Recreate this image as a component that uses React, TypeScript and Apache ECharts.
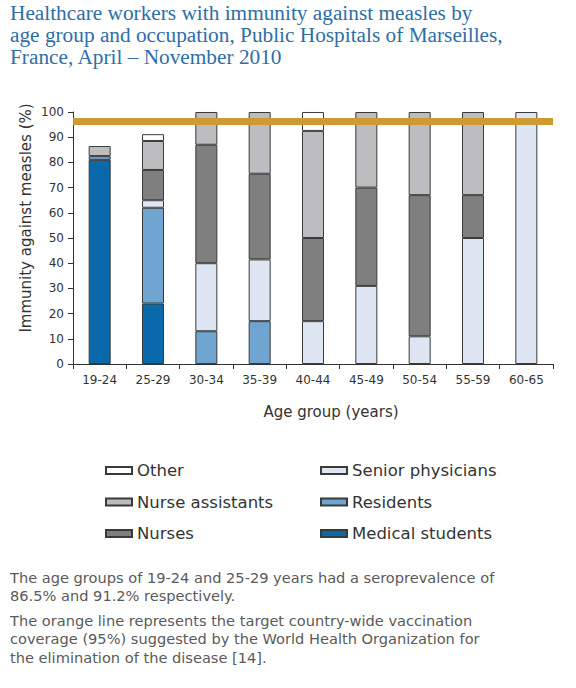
import React, { useEffect, useRef } from "react";
import * as echarts from "echarts";

const categories = ["19-24", "25-29", "30-34", "35-39", "40-44", "45-49", "50-54", "55-59", "60-65"];
const medicalStudents = [81, 24, null, null, null, null, null, null, null];
const residents = [1.5, 38, 13, 17, null, null, null, null, null];
const seniorPhysicians = [null, 3, 27, 24.5, 17, 31, 11, 50, 100];
const nurses = [null, 12, 47, 34, 33, 39, 56, 17, null];
const nurseAssistants = [4, 11.5, 13, 24.5, 42.5, 30, 33, 33, null];
const other = [null, 2.7, null, null, 7.5, null, null, null, null];
const targetLine = 96.5;
const yTicks = { min: 0, max: 100, interval: 10 };

const titleLines = [
  "Healthcare workers with immunity against measles by",
  "age group and occupation, Public Hospitals of Marseilles,",
  "France, April \u2013 November 2010",
];
const yAxisName = "Immunity against measles (%)";
const xAxisName = "Age group (years)";
const noteLines = [
  "The age groups of 19-24 and 25-29 years had a seroprevalence of",
  "86.5% and 91.2% respectively.",
  "The orange line represents the target country-wide vaccination",
  "coverage (95%) suggested by the World Health Organization for",
  "the elimination of the disease [14].",
];
const noteY = [577, 595, 620, 638, 657];

const SANS = "'DejaVu Sans', sans-serif";
const BORDER = "#3a3a3a";

export default function App() {
  const ref = useRef<HTMLDivElement>(null);
  useEffect(() => {
    document.body.style.margin = "0";
    const chart = echarts.init(ref.current!, null, { renderer: "svg" });
    const mk = (name: string, data: any[], color: string, extra: any = {}) => ({
      name,
      type: "bar",
      stack: "total",
      barWidth: 22,
      data,
      itemStyle: { color, borderColor: BORDER, borderWidth: 1 },
      emphasis: { disabled: true },
      ...extra,
    });
    const legendText = { fontSize: 16.5, color: "#333", fontFamily: SANS };
    const legendBase = {
      orient: "vertical",
      top: 457,
      itemWidth: 26,
      itemHeight: 7,
      itemGap: 14.5,
      icon: "rect",
      textStyle: legendText,
      selectedMode: false,
    };
    chart.setOption({
      animation: false,
      textStyle: { fontFamily: SANS },
      grid: { left: 73, right: 23, top: 112, bottom: 324, containLabel: false },
      legend: [
        { ...legendBase, left: 100, data: ["Other", "Nurse assistants", "Nurses"] },
        { ...legendBase, left: 315, data: ["Senior physicians", "Residents", "Medical students"] },
      ],
      xAxis: {
        type: "category",
        data: categories,
        boundaryGap: true,
        axisLine: { lineStyle: { color: "#333", width: 1 } },
        axisTick: { show: true, length: 5, lineStyle: { color: "#333" } },
        axisLabel: { color: "#333", fontSize: 12, margin: 10, fontFamily: SANS },
      },
      yAxis: {
        type: "value",
        min: yTicks.min,
        max: yTicks.max,
        interval: yTicks.interval,
        axisLine: { show: true, lineStyle: { color: "#333", width: 1 } },
        axisTick: { show: true, length: 5, lineStyle: { color: "#333" } },
        splitLine: { show: false },
        axisLabel: { color: "#333", fontSize: 12, margin: 9, fontFamily: SANS },
      },
      series: [
        mk("Medical students", medicalStudents, "#0a69aa"),
        mk("Residents", residents, "#70a4d1"),
        mk("Senior physicians", seniorPhysicians, "#dde6f2"),
        mk("Nurses", nurses, "#7f7f7f"),
        mk("Nurse assistants", nurseAssistants, "#bdbdbf"),
        mk("Other", other, "#ffffff", {
          markLine: {
            silent: true,
            symbol: "none",
            label: { show: false },
            lineStyle: { color: "#d09a32", width: 7, type: "solid" },
            data: [{ yAxis: targetLine }],
          },
        }),
      ],
      graphic: [
        {
          type: "text",
          left: 10,
          top: 2,
          style: {
            text: titleLines.join("\n"),
            font: "21.3px 'Liberation Serif', serif",
            fill: "#2f6ea6",
            lineHeight: 22,
          },
        },
        {
          type: "text",
          x: 26,
          y: 218,
          rotation: Math.PI / 2,
          style: {
            text: yAxisName,
            font: "15px " + SANS,
            fill: "#333",
            align: "center",
            verticalAlign: "middle",
          },
        },
        {
          type: "text",
          x: 331,
          y: 412,
          style: {
            text: xAxisName,
            font: "15px " + SANS,
            fill: "#333",
            align: "center",
            verticalAlign: "middle",
          },
        },
        ...noteLines.map((t, i) => ({
          type: "text",
          x: 10,
          y: noteY[i],
          style: {
            text: t,
            font: "14.6px " + SANS,
            fill: "#5a5a5a",
            verticalAlign: "middle",
          },
        })),
      ],
    });
    return () => chart.dispose();
  }, []);
  return <div ref={ref} style={{ width: 576, height: 688 }} />;
}
